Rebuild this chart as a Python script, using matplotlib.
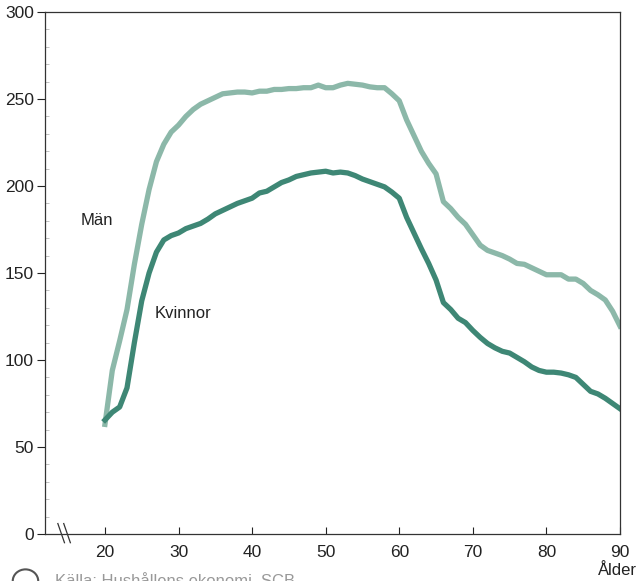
"""
Inkomst efter ålder, män och kvinnor (tusental kr).
"""

import matplotlib.pyplot as plt
import matplotlib.patches as mpatches

plt.rcParams["font.family"] = ["Liberation Sans", "DejaVu Sans"]

AGES = list(range(20, 91))

MEN = [
    63, 94, 111, 129, 155, 178, 198, 214, 224, 231,
    235, 240, 244, 247, 249, 251, 253, 253.5, 254, 254,
    253.5, 254.5, 254.5, 255.5, 255.5, 256, 256, 256.5, 256.5, 258,
    256.5, 256.5, 258, 259, 258.5, 258, 257, 256.5, 256.5, 253,
    249, 238, 229, 220, 213, 207, 191, 187, 182, 178,
    172, 166, 163, 161.5, 160, 158, 155.5, 155, 153, 151,
    149, 149, 149, 146.5, 146.5, 144, 140, 137.5, 134.5, 128,
    119.5,
]

WOMEN = [
    65.5, 70, 73, 84, 110, 134, 150, 162, 169, 171.5,
    173, 175.5, 177, 178.5, 181, 184, 186, 188, 190, 191.5,
    193, 196, 197, 199.5, 202, 203.5, 205.5, 206.5, 207.5, 208,
    208.5, 207.5, 208, 207.5, 206, 204, 202.5, 201, 199.5, 196.5,
    193, 182, 173, 164, 155.5, 146, 133, 129, 124, 121.5,
    117, 113, 109.5, 107, 105, 104, 101.5, 99, 96, 94,
    93, 93, 92.5, 91.5, 90, 86, 82, 80.5, 78, 75,
    72,
]

MEN_COLOR = "#8cb8a9"
WOMEN_COLOR = "#3e8775"


def main():
    fig = plt.figure(figsize=(6.37, 5.81), dpi=100)
    axis = fig.add_axes([0.0706, 0.0809, 0.9027, 0.8984])

    axis.plot(AGES, MEN, color=MEN_COLOR, linewidth=3.8, solid_joinstyle="round")
    axis.plot(AGES, WOMEN, color=WOMEN_COLOR, linewidth=3.8, solid_joinstyle="round")

    axis.set_xlim(11.85, 90)
    axis.set_ylim(0, 300)
    axis.set_xticks(range(20, 91, 10))
    axis.set_yticks(range(0, 301, 50))
    axis.set_yticks(range(0, 301, 10), minor=True)

    axis.tick_params(axis="x", direction="in", length=5, width=0.8,
                     labelsize=12.5, pad=8, colors="#222222")
    axis.tick_params(axis="y", which="major", direction="out", length=6,
                     width=0.8, labelsize=12.5, pad=2, colors="#222222")
    axis.tick_params(axis="y", which="minor", direction="in", length=3,
                     width=0.5, color="#aaaaaa")
    axis.tick_params(axis="x", which="minor", bottom=False)

    for spine in axis.spines.values():
        spine.set_color("#333333")
        spine.set_linewidth(0.9)

    axis.text(16.7, 180, "Män", fontsize=12, color="#222222", va="center")
    axis.text(26.8, 127, "Kvinnor", fontsize=12, color="#222222", va="center")
    axis.text(89.6, -16.5, "Ålder", fontsize=12, color="#222222",
              ha="center", va="top", clip_on=False)

    # axis break marks
    for x0 in (13.6, 14.4):
        axis.plot([x0, x0 + 0.9], [6, -5], color="#333333", linewidth=0.9,
                  clip_on=False)

    # source line, cut by the image edge as in the original
    fig.patches.append(mpatches.Circle((0.04, 0.0), 0.02,
                                       transform=fig.transFigure,
                                       facecolor="white", edgecolor="#555555",
                                       linewidth=1.5))
    fig.text(0.087, 0.0, "Källa: Hushållens ekonomi, SCB", fontsize=12,
             color="#999999", va="center")

    fig.savefig("out.png", dpi=100)
    plt.close(fig)


if __name__ == "__main__":
    main()
